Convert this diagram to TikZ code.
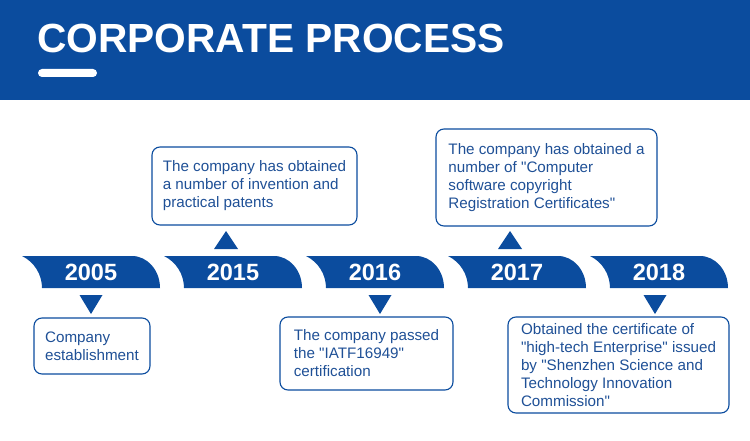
\documentclass[tikz,border=0pt]{standalone}
\usepackage{fontspec}
\setmainfont{Liberation Sans}[Ligatures=TeXOff]
\usetikzlibrary{positioning, calc}
\definecolor{cpblue}{HTML}{0B4C9E}
\definecolor{cptext}{HTML}{1F5096}

\begin{document}
\begin{tikzpicture}[x=1pt, y=1pt,
    every node/.style={font=\fontsize{15.2}{18}\selectfont},
    headline/.style={anchor=base west, inner sep=0pt, text=white, font=\fontsize{40.7}{44}\bfseries\selectfont},
    year/.style={inner sep=0pt, text=white, font=\fontsize{23.5}{28}\bfseries\selectfont},
    note/.style={draw=cpblue, line width=1.1pt, rounded corners=8pt, text=cptext, align=left, inner sep=0pt},
    pointer/.style={fill=cpblue}]

  \useasboundingbox (0,0) rectangle (750,440);

  % header
  \fill[cpblue] (0,340) rectangle (750,440);
  \node[headline] (title) at (37,387) {CORPORATE PROCESS};
  \fill[white, rounded corners=4pt] (38,363) rectangle (97,371);

  % year banners
  \foreach \yr [count=\i from 0] in {2005,2015,2016,2017,2018} {
    \pgfmathsetmacro{\xa}{22+142*\i}
    \fill[cpblue] (\xa,184) -- ++(110,0)
      arc[start angle=90, end angle=0, x radius=28, y radius=32]
      -- (\xa+20,152) arc[start angle=0, end angle=64, radius=35.6] -- cycle;
    \node[year] (y\yr) at (\xa+69,168) {\yr};
  }

  % pointers
  \foreach \px in {91,380,655}
    \fill[pointer] (\px-11.5,145) -- (\px+11.5,145) -- (\px,126) -- cycle;
  \foreach \px in {226,510}
    \fill[pointer] (\px-12,191) -- (\px+12,191) -- (\px,209) -- cycle;

  % notes
  \node[note, minimum width=116pt, minimum height=56pt] (n2005) at (92,94) {Company\\establishment};
  \node[note, minimum width=205pt, minimum height=78pt] (n2015) at (254.5,254) {The company has obtained\\a number of invention and\\practical patents};
  \node[note, minimum width=173pt, minimum height=73pt] (n2016) at (366.5,86.5) {The company passed\\the "IATF16949"\\certification};
  \node[note, minimum width=221pt, minimum height=97pt] (n2017) at (546.5,262.5) {The company has obtained a\\number of "Computer\\software copyright\\Registration Certificates"};
  \node[note, minimum width=221pt, minimum height=96pt] (n2018) at (618.5,75) {Obtained the certificate of\\"high-tech Enterprise" issued\\by "Shenzhen Science and\\Technology Innovation\\Commission"};
\end{tikzpicture}
\end{document}
